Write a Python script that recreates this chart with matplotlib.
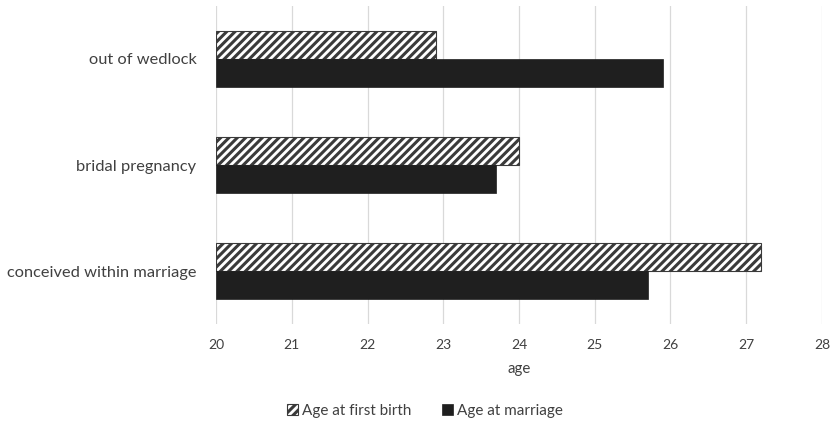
import numpy as np
import matplotlib.pyplot as plt

plt.rcParams['font.family'] = ['Lato', 'DejaVu Sans']
plt.rcParams['hatch.linewidth'] = 2.2
plt.rcParams['hatch.color'] = '#1f1f1f'

categories = ['conceived within marriage', 'bridal pregnancy', 'out of wedlock']
first_birth = [27.2, 24.0, 22.9]
marriage = [25.7, 23.7, 25.9]
xticks = [20, 21, 22, 23, 24, 25, 26, 27, 28]

fig = plt.figure(figsize=(8.33, 4.22), dpi=100)
ax = fig.add_axes([216 / 833, 98 / 422, 606 / 833, 318 / 422])

y = np.arange(len(categories))
h = 0.265

ax.barh(y + h / 2, np.array(first_birth) - 20, left=20, height=h,
        color='white', edgecolor='#3a3a3a', hatch='////', linewidth=0.8,
        label='Age at first birth', zorder=3)
ax.barh(y - h / 2, np.array(marriage) - 20, left=20, height=h,
        color='#1f1f1f', edgecolor='#1f1f1f', linewidth=0.5,
        label='Age at marriage', zorder=3)

ax.set_xlim(20, 28)
ax.set_ylim(-0.5, 2.5)
ax.set_xticks(xticks)
ax.set_xticklabels([str(t) for t in xticks])
ax.set_yticks(y)
ax.set_yticklabels(categories)

ax.grid(axis='x', color='#d9d9d9', linewidth=0.9, zorder=0)
ax.grid(axis='y', visible=False)
for s in ax.spines.values():
    s.set_visible(False)

ax.tick_params(axis='x', length=0, pad=11, labelsize=10, labelcolor='#404040')
ax.tick_params(axis='y', length=0, pad=14, labelsize=11.8, labelcolor='#404040')
ax.set_xlabel('age', fontsize=10.8, color='#404040', labelpad=8)

fig.legend(loc='center', bbox_to_anchor=(425 / 833, 11 / 422), ncol=2,
           frameon=False, fontsize=11, handlelength=0.7, handleheight=0.7,
           handletextpad=0.3, columnspacing=2.0, labelcolor='#404040')

fig.savefig('out.png', dpi=100)
